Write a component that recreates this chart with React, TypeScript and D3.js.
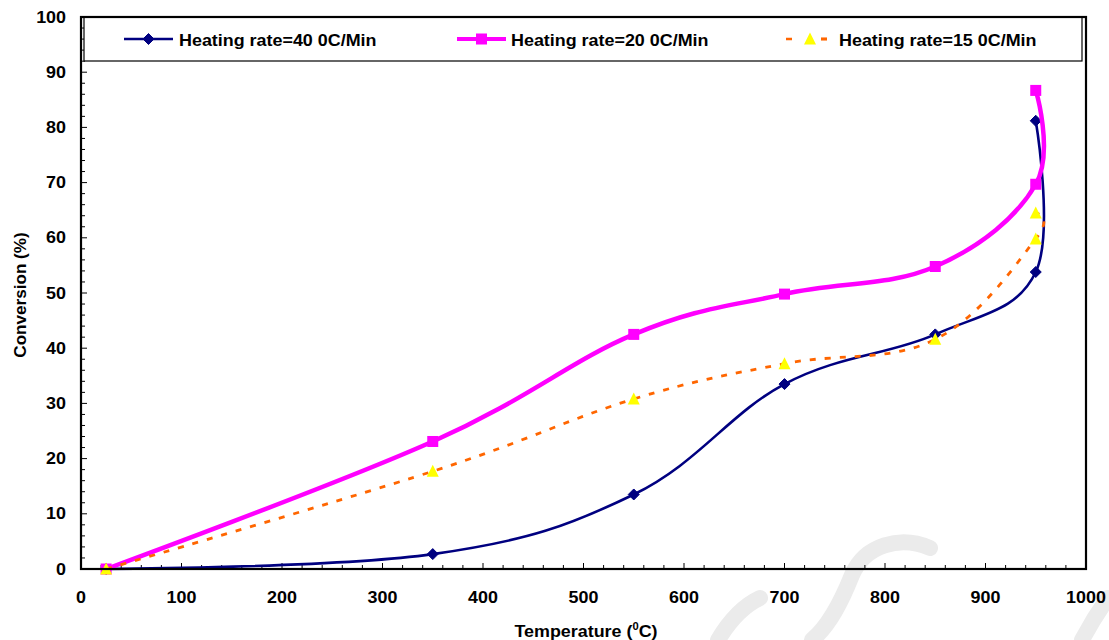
import React from "react";
import * as d3 from "d3";

// Conversion vs temperature at three heating rates
const temperatures = [25, 350, 550, 700, 850, 950, 950];
const conversion40 = [0, 2.7, 13.5, 33.5, 42.5, 53.8, 81.2];
const conversion20 = [0, 23.1, 42.5, 49.8, 54.8, 69.7, 86.7];
const conversion15 = [0, 17.7, 30.8, 37.2, 41.6, 59.8, 64.5];

const seriesNames = [
  "Heating rate=40 0C/Min",
  "Heating rate=20 0C/Min",
  "Heating rate=15 0C/Min",
];

const xTicks = [0, 100, 200, 300, 400, 500, 600, 700, 800, 900, 1000];
const yTicks = [0, 10, 20, 30, 40, 50, 60, 70, 80, 90, 100];

const W = 1109;
const H = 640;
const PLOT = { left: 81, right: 1086, top: 17, bottom: 569 };
const FONT = "'Liberation Sans', Arial, sans-serif";
const SX = 1.12;

const x = d3.scaleLinear().domain([0, 1000]).range([PLOT.left, PLOT.right]);
const y = d3.scaleLinear().domain([0, 100]).range([PLOT.bottom, PLOT.top]);

type Pt = [number, number];
const toPts = (vals: number[]): Pt[] => vals.map((v, i) => [temperatures[i], v]);

const line = d3
  .line<Pt>()
  .x((d) => x(d[0]))
  .y((d) => y(d[1]))
  .curve(d3.curveCardinal.tension(-0.1));

function SText(props: {
  x: number;
  y: number;
  anchor?: "start" | "middle" | "end";
  size?: number;
  dy?: string;
  rotate?: number;
  sx?: number;
  children: React.ReactNode;
}) {
  const { anchor = "start", size = 16, dy, rotate = 0, sx = SX } = props;
  return (
    <text
      transform={`translate(${props.x},${props.y}) rotate(${rotate}) scale(${sx},1)`}
      textAnchor={anchor}
      fontSize={size}
      fontWeight="bold"
      fontFamily={FONT}
      dy={dy}
      fill="#000"
    >
      {props.children}
    </text>
  );
}

const diamond = (cx: number, cy: number, r = 5.5) =>
  `M${cx},${cy - r}L${cx + r},${cy}L${cx},${cy + r}L${cx - r},${cy}Z`;
const triangle = (cx: number, cy: number, w = 12, h = 11) =>
  `M${cx},${cy - h / 2 - 1}L${cx + w / 2},${cy + h / 2}L${cx - w / 2},${cy + h / 2}Z`;

function Marker({ kind, cx, cy }: { kind: number; cx: number; cy: number }) {
  if (kind === 0) return <path d={diamond(cx, cy)} fill="#000080" stroke="#000080" strokeWidth={1} />;
  if (kind === 1) return <rect x={cx - 5.5} y={cy - 5.5} width={11} height={11} fill="#FF00FF" />;
  return <path d={triangle(cx, cy)} fill="#FFFF00" />;
}

const styles = [
  { color: "#000080", width: 2.6, dash: undefined as string | undefined },
  { color: "#FF00FF", width: 4.5, dash: undefined as string | undefined },
  { color: "#FF6600", width: 2.8, dash: "6 9" },
];

export default function App() {
  const series = [conversion40, conversion20, conversion15].map(toPts);

  const xMinor = d3.range(0, 1001, 20);
  const yMinor = d3.range(0, 101, 2);

  const legendX = [124, 457, 786];
  const legendTextX = [179, 511, 839];
  const legendY = 39;

  return (
    <svg
      width={W}
      height={H}
      style={{ position: "absolute", left: 0, top: 0, background: "#fff" }}
    >
      <rect x={0} y={0} width={W} height={H} fill="#fff" />

      {/* faint background marks */}
      <g fill="none" stroke="#ebebeb" strokeWidth={16} strokeLinecap="round">
        <path d="M718,640 C730,620 745,605 760,598" />
        <path d="M930,548 C900,535 865,545 852,575 C842,600 830,625 812,640" />
        <path d="M1108,598 C1098,612 1090,625 1082,640" />
      </g>

      {/* minor & major ticks, pointing inward */}
      <g stroke="#000" strokeWidth={1}>
        {xMinor.map((t) => (
          <line key={"xt" + t} x1={x(t)} x2={x(t)} y1={PLOT.bottom} y2={PLOT.bottom - (t % 100 === 0 ? 6 : 4)} />
        ))}
        {yMinor.map((t) => (
          <line key={"yt" + t} x1={PLOT.left} x2={PLOT.left + (t % 10 === 0 ? 6 : 4)} y1={y(t)} y2={y(t)} />
        ))}
      </g>

      {/* legend box */}
      <rect x={84} y={PLOT.top} width={998} height={44} fill="#fff" stroke="#000" strokeWidth={1.2} />
      {seriesNames.map((name, i) => (
        <g key={name}>
          <line
            x1={legendX[i]}
            x2={legendX[i] + (i === 2 ? 41 : 49)}
            y1={legendY}
            y2={legendY}
            stroke={styles[i].color}
            strokeWidth={i === 1 ? 4 : 2.6}
            strokeDasharray={i === 2 ? "6 29" : undefined}
          />
          {i === 2 && (
            <line x1={821} x2={827} y1={legendY} y2={legendY} stroke={styles[2].color} strokeWidth={2.8} />
          )}
          <Marker kind={i} cx={legendX[i] + (i === 2 ? 24 : 24.5)} cy={legendY} />
          <SText x={legendTextX[i]} y={legendY + 7}>
            {name}
          </SText>
        </g>
      ))}

      {/* series */}
      {series.map((pts, i) => (
        <g key={"s" + i}>
          <path
            d={line(pts) ?? ""}
            fill="none"
            stroke={styles[i].color}
            strokeWidth={styles[i].width}
            strokeDasharray={styles[i].dash}
          />
          {pts.map((p, j) => (
            <Marker key={j} kind={i} cx={x(p[0])} cy={y(p[1])} />
          ))}
        </g>
      ))}

      {/* plot frame */}
      <rect
        x={PLOT.left}
        y={PLOT.top}
        width={PLOT.right - PLOT.left}
        height={PLOT.bottom - PLOT.top}
        fill="none"
        stroke="#000"
        strokeWidth={2.2}
      />

      {/* tick labels */}
      {xTicks.map((t) => (
        <SText key={"xl" + t} x={x(t)} y={603} anchor="middle">
          {t}
        </SText>
      ))}
      {yTicks.map((t) => (
        <SText key={"yl" + t} x={66} y={y(t)} anchor="end" dy="0.35em">
          {t}
        </SText>
      ))}

      {/* axis titles */}
      <text
        transform={`translate(586,637) scale(${SX},1)`}
        textAnchor="middle"
        fontSize={16}
        fontWeight="bold"
        fontFamily={FONT}
      >
        Temperature (
        <tspan fontSize={10} dy={-7}>
          0
        </tspan>
        <tspan dy={7}>C)</tspan>
      </text>
      <SText x={25.5} y={295} anchor="middle" rotate={-90} sx={1.07}>
        Conversion (%)
      </SText>
    </svg>
  );
}
